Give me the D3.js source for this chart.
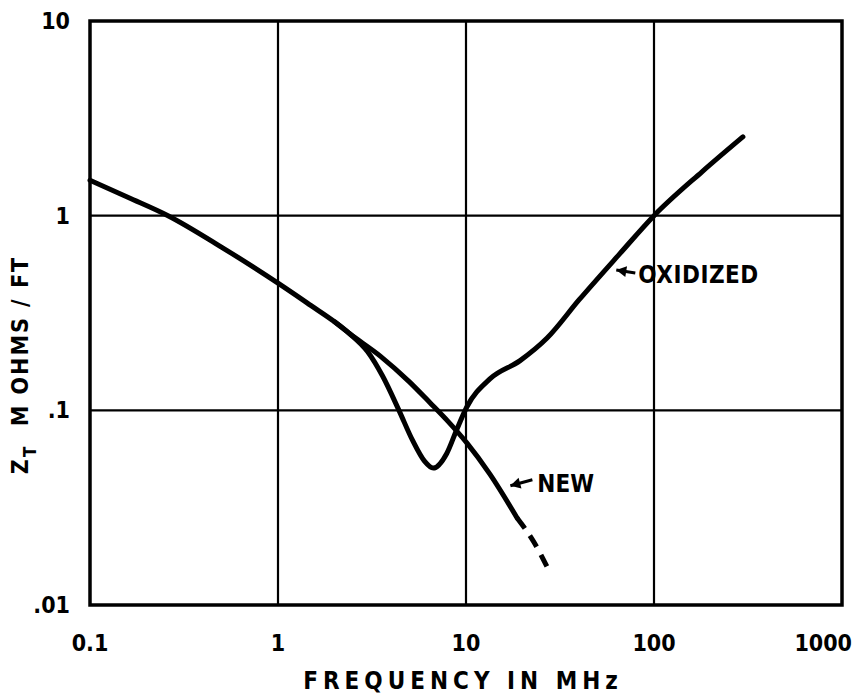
<!DOCTYPE html>
<html>
<head>
<meta charset="utf-8">
<script src="https://cdn.jsdelivr.net/npm/d3@7"></script>
<style>
  body { margin: 0; background: #fff; }
  text { font-family: "DejaVu Sans Condensed", "DejaVu Sans", sans-serif; font-weight: bold; fill: #000; }
</style>
</head>
<body>
<svg id="chart" width="858" height="694"></svg>
<script>
// tick values
var xTicks = [0.1, 1, 10, 100, 1000];
var xTickLabels = ["0.1", "1", "10", "100", "1000"];
var yTicks = [0.01, 0.1, 1, 10];
var yTickLabels = [".01", ".1", "1", "10"];

// shared part of both curves (MHz, M ohms/ft)
var commonFreq = [0.1, 0.16, 0.26, 0.5, 1, 1.5, 2, 2.4];
var commonZ = [1.52, 1.24, 1.0, 0.69, 0.45, 0.345, 0.285, 0.248];

// NEW cable
var newFreq = [3.5, 5, 6.4, 8, 10.1, 13.4, 18.7];
var newZ = [0.19, 0.14, 0.11, 0.088, 0.068, 0.047, 0.028];
var newDashFreq = [18.7, 23, 27];
var newDashZ = [0.028, 0.021, 0.0157];

// OXIDIZED cable
var oxFreq = [3.0, 3.6, 4.4, 5.2, 6.0, 6.7, 7.9, 8.9, 10.1, 13.4, 19.4, 27, 40, 66, 100, 180, 297];
var oxZ = [0.2, 0.15, 0.1, 0.07, 0.055, 0.0505, 0.06, 0.079, 0.104, 0.145, 0.18, 0.235, 0.37, 0.64, 1.0, 1.68, 2.54];

var margin = { top: 21, right: 16, bottom: 89, left: 90 };
var svgWidth = 858, svgHeight = 694;
var width = svgWidth - margin.left - margin.right;
var height = svgHeight - margin.top - margin.bottom;

var x = d3.scaleLog().domain([0.1, 1000]).range([0, width]);
var y = d3.scaleLog().domain([0.01, 10]).range([height, 0]);

var svg = d3.select("#chart")
  .append("g")
  .attr("transform", "translate(" + margin.left + "," + margin.top + ")");

// grid lines
svg.append("g").selectAll("line")
  .data(xTicks.slice(1, -1)).enter()
  .append("line")
  .attr("x1", function(d) { return x(d); })
  .attr("x2", function(d) { return x(d); })
  .attr("y1", 0).attr("y2", height)
  .attr("stroke", "#000").attr("stroke-width", 2.2);

svg.append("g").selectAll("line")
  .data(yTicks.slice(1, -1)).enter()
  .append("line")
  .attr("y1", function(d) { return y(d); })
  .attr("y2", function(d) { return y(d); })
  .attr("x1", 0).attr("x2", width)
  .attr("stroke", "#000").attr("stroke-width", 2.2);

// frame
svg.append("rect")
  .attr("width", width).attr("height", height)
  .attr("fill", "none").attr("stroke", "#000").attr("stroke-width", 3.5);

// tick labels
svg.append("g").selectAll("text")
  .data(xTicks).enter()
  .append("text")
  .attr("x", function(d, i) { return i === xTicks.length - 1 ? x(d) + 10 : x(d); })
  .attr("y", height + 46)
  .attr("text-anchor", function(d, i) { return i === xTicks.length - 1 ? "end" : "middle"; })
  .style("font-size", "23px")
  .text(function(d, i) { return xTickLabels[i]; });

svg.append("g").selectAll("text")
  .data(yTicks).enter()
  .append("text")
  .attr("x", -20)
  .attr("y", function(d) { return y(d) + 8; })
  .attr("text-anchor", "end")
  .style("font-size", "23px")
  .text(function(d, i) { return yTickLabels[i]; });

// curves
var line = d3.line()
  .x(function(d) { return x(d[0]); })
  .y(function(d) { return y(d[1]); })
  .curve(d3.curveMonotoneX);

var zip = function(a, b) { return a.map(function(v, i) { return [v, b[i]]; }); };
var common = zip(commonFreq, commonZ);

svg.append("path")
  .datum(common.concat(zip(newFreq, newZ)))
  .attr("d", line)
  .attr("fill", "none").attr("stroke", "#000")
  .attr("stroke-width", 5).attr("stroke-linecap", "round");

svg.append("path")
  .datum(zip(newDashFreq, newDashZ))
  .attr("d", line)
  .attr("fill", "none").attr("stroke", "#000")
  .attr("stroke-width", 5).attr("stroke-dasharray", "13,9");

svg.append("path")
  .datum(common.slice(-2).concat(zip(oxFreq, oxZ)))
  .attr("d", line)
  .attr("fill", "none").attr("stroke", "#000")
  .attr("stroke-width", 5).attr("stroke-linecap", "round");

// arrows and labels
var arrow = function(x1, y1, x2, y2) {
  svg.append("line")
    .attr("x1", x1).attr("y1", y1).attr("x2", x2).attr("y2", y2)
    .attr("stroke", "#000").attr("stroke-width", 3);
  var a = Math.atan2(y2 - y1, x2 - x1), L = 10, W = 5.5;
  var bx = x2 - L * Math.cos(a), by = y2 - L * Math.sin(a);
  svg.append("path")
    .attr("d", "M" + x2 + "," + y2 +
      "L" + (bx - W * Math.sin(a)) + "," + (by + W * Math.cos(a)) +
      "L" + (bx + W * Math.sin(a)) + "," + (by - W * Math.cos(a)) + "Z")
    .attr("fill", "#000");
};

arrow(x(60) + 23, y(0.43) - 14, x(60) + 4, y(0.43) - 17);
svg.append("text")
  .attr("x", x(60) + 26).attr("y", y(0.43) - 4)
  .style("font-size", "24px")
  .style("letter-spacing", "0.5px")
  .text("OXIDIZED");

arrow(x(16) + 28, y(0.04) - 8, x(16) + 6, y(0.04) - 2);
svg.append("text")
  .attr("x", x(16) + 33).attr("y", y(0.04) + 4)
  .style("font-size", "24px")
  .text("NEW");

// axis titles
svg.append("text")
  .attr("x", width / 2 - 3)
  .attr("y", height + 84)
  .attr("text-anchor", "middle")
  .style("font-size", "24px")
  .style("letter-spacing", "5px")
  .text("FREQUENCY IN MHz");

var yt = svg.append("text")
  .attr("transform", "translate(" + (-62) + "," + (height / 2 + 52) + ") rotate(-90)")
  .attr("text-anchor", "middle")
  .style("font-size", "23px")
  .style("letter-spacing", "2px");
yt.append("tspan").text("Z");
yt.append("tspan").attr("dy", 8).style("font-size", "17px").text("T");
yt.append("tspan").attr("dy", -8).text("\u00a0\u00a0M OHMS / FT");
</script>
</body>
</html>
